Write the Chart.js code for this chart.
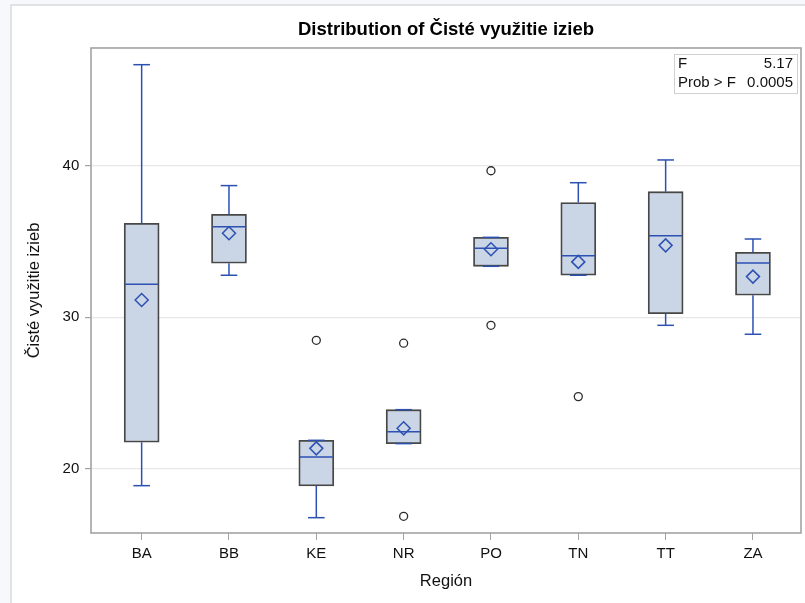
<!DOCTYPE html>
<html>
<head>
<meta charset="utf-8">
<script src="https://cdn.jsdelivr.net/npm/chart.js@4.4.1/dist/chart.umd.min.js"></script>
<style>
  html, body { margin: 0; padding: 0; background: #f7f8fc; }
  body { width: 805px; height: 603px; position: relative; overflow: hidden; }
  #sheet {
    position: absolute; left: 10px; top: 4px; width: 900px; height: 700px;
    background: #ffffff; border-left: 2px solid #e1e2e5; border-top: 2px solid #e1e2e5;
  }
  #wrap { position: absolute; left: 0; top: 0; width: 805px; height: 603px; }
</style>
</head>
<body>
<div id="sheet"></div>
<div id="wrap"><canvas id="chart" width="805" height="603"></canvas></div>
<script>
// Regions on the category axis
const categories = ['BA', 'BB', 'KE', 'NR', 'PO', 'TN', 'TT', 'ZA'];

// Five-number summaries per region (whisker ends, quartiles, median) and group means
const whiskerLow  = [18.90, 32.77, 16.79, 21.67, 33.36, 32.77, 29.47, 28.88];
const q1          = [21.76, 33.56, 18.88, 21.67, 33.36, 32.77, 30.24, 31.45];
const medians     = [32.17, 35.97, 20.79, 22.46, 34.55, 34.06, 35.38, 33.58];
const q3          = [36.20, 36.79, 21.89, 23.91, 35.27, 37.56, 38.28, 34.28];
const whiskerHigh = [46.65, 38.68, 21.89, 23.91, 35.27, 38.87, 40.37, 35.16];
const means       = [31.14, 35.54, 21.36, 22.68, 34.48, 33.65, 34.74, 32.68];

// Outlying observations: [region index, value]
const outliers = [[2, 28.48], [3, 28.29], [3, 16.88], [4, 39.66], [4, 29.47], [5, 24.77]];

// Y axis ticks
const yTicks = [20, 30, 40];

// ANOVA inset
const statLabels = ['F', 'Prob > F'];
const statValues = ['5.17', '0.0005'];

const BLUE = '#2d51b3';
const BOX_FILL = '#cad5e5';
const BOX_EDGE = '#474747';
const FONT = "'Liberation Sans', Arial, sans-serif";

const whiskerSegments = [];
categories.forEach((c, i) => {
  whiskerSegments.push({x: i, y: whiskerLow[i]}, {x: i, y: q1[i]}, {x: i, y: null});
  whiskerSegments.push({x: i, y: q3[i]}, {x: i, y: whiskerHigh[i]}, {x: i, y: null});
});
const capPoints = [];
categories.forEach((c, i) => {
  capPoints.push({x: i, y: whiskerLow[i]}, {x: i, y: whiskerHigh[i]});
});

// Plot frame around the chart area
const framePlugin = {
  id: 'frame',
  beforeDatasetsDraw(chart) {
    const {ctx, chartArea: a} = chart;
    ctx.save();
    ctx.strokeStyle = '#a0a3a6';
    ctx.lineWidth = 1.6;
    ctx.strokeRect(a.left, a.top, a.right - a.left, a.bottom - a.top);
    ctx.restore();
  }
};

// Statistics inset in the upper right corner
const insetPlugin = {
  id: 'inset',
  afterDraw(chart) {
    const {ctx, chartArea: a} = chart;
    const w = 123, h = 39;
    const x = a.right - 4 - w, y = a.top + 6;
    ctx.save();
    ctx.fillStyle = '#ffffff';
    ctx.fillRect(x, y, w, h);
    ctx.strokeStyle = '#cfd0d2';
    ctx.lineWidth = 1;
    ctx.strokeRect(x + 0.5, y + 0.5, w, h);
    ctx.font = '15px ' + FONT;
    ctx.fillStyle = '#111';
    ctx.textBaseline = 'middle';
    statLabels.forEach((lab, k) => {
      const ty = y + 10 + k * 19;
      ctx.textAlign = 'left';
      ctx.fillText(lab, x + 4, ty);
      ctx.textAlign = 'right';
      ctx.fillText(statValues[k], x + w - 4, ty);
    });
    ctx.restore();
  }
};

new Chart(document.getElementById('chart'), {
  type: 'bar',
  data: {
    datasets: [
      {
        type: 'bar',
        data: categories.map((c, i) => ({x: i, y: [q1[i], q3[i]]})),
        backgroundColor: BOX_FILL,
        borderColor: BOX_EDGE,
        borderWidth: 1.8,
        borderSkipped: false,
        barThickness: 35,
        order: 10
      },
      {
        type: 'line',
        data: whiskerSegments,
        borderColor: BLUE,
        borderWidth: 1.5,
        pointRadius: 0,
        spanGaps: false,
        fill: false,
        order: 9
      },
      {
        type: 'scatter',
        data: capPoints,
        pointStyle: 'line',
        pointRadius: 8.3,
        pointHoverRadius: 8.3,
        borderColor: BLUE,
        borderWidth: 1.5,
        order: 8
      },
      {
        type: 'scatter',
        data: categories.map((c, i) => ({x: i, y: medians[i]})),
        pointStyle: 'line',
        pointRadius: 16.5,
        pointHoverRadius: 16.5,
        borderColor: BLUE,
        borderWidth: 1.5,
        order: 7
      },
      {
        type: 'scatter',
        data: categories.map((c, i) => ({x: i, y: means[i]})),
        pointStyle: 'rectRot',
        pointRadius: 6.5,
        pointHoverRadius: 6.5,
        backgroundColor: 'rgba(0,0,0,0)',
        borderColor: BLUE,
        borderWidth: 1.5,
        order: 6
      },
      {
        type: 'scatter',
        data: outliers.map(([i, v]) => ({x: i, y: v})),
        pointStyle: 'circle',
        pointRadius: 4,
        pointHoverRadius: 4,
        backgroundColor: 'rgba(0,0,0,0)',
        borderColor: '#2b2b2b',
        borderWidth: 1.3,
        order: 5
      }
    ]
  },
  options: {
    responsive: false,
    animation: false,
    events: [],
    layout: { autoPadding: false, padding: { left: 0, right: 4, top: 0, bottom: 0 } },
    plugins: {
      legend: { display: false },
      tooltip: { enabled: false },
      title: {
        display: true,
        fullSize: false,
        text: 'Distribution of Čisté využitie izieb',
        color: '#000',
        font: { family: FONT, size: 18.5, weight: 'bold' },
        padding: { top: 18.9, bottom: 6.9 }
      }
    },
    scales: {
      x: {
        type: 'linear',
        min: -0.58,
        max: 7.55,
        offset: false,
        afterBuildTicks: (s) => { s.ticks = categories.map((c, i) => ({value: i})); },
        afterFit: (s) => { s.height = 70; },
        ticks: {
          callback: (v) => categories[v],
          color: '#111',
          font: { family: FONT, size: 15 },
          padding: 5,
          maxRotation: 0,
          autoSkip: false
        },
        grid: { drawOnChartArea: false, drawTicks: true, tickLength: 7, tickColor: '#a0a3a6', offset: false },
        border: { display: false },
        title: {
          display: true,
          text: 'Región',
          color: '#111',
          font: { family: FONT, size: 16.5 },
          padding: { top: 0, bottom: 12 }
        }
      },
      y: {
        type: 'linear',
        min: 15.78,
        max: 47.75,
        afterBuildTicks: (s) => { s.ticks = yTicks.map(v => ({value: v})); },
        afterFit: (s) => { s.width = 91; },
        ticks: {
          color: '#111',
          font: { family: FONT, size: 15 },
          padding: 5.7
        },
        grid: { color: '#e7e7e7', lineWidth: 1.2, drawTicks: true, tickLength: 6, tickColor: '#a0a3a6' },
        border: { display: false },
        title: {
          display: true,
          text: 'Čisté využitie izieb',
          color: '#111',
          font: { family: FONT, size: 16.5 },
          padding: { top: 25, bottom: 0 }
        }
      }
    }
  },
  plugins: [framePlugin, insetPlugin]
});
</script>
</body>
</html>
